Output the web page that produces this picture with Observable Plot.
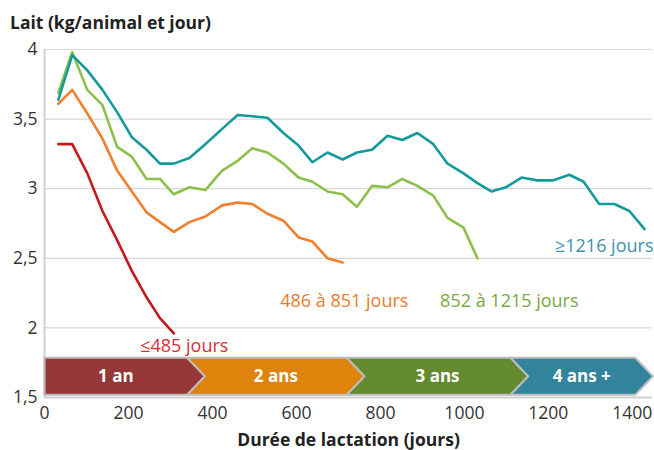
<!DOCTYPE html>
<html>
<head>
<meta charset="utf-8">
<script src="https://cdn.jsdelivr.net/npm/d3@7"></script>
<script src="https://cdn.jsdelivr.net/npm/@observablehq/plot@0.6"></script>
<style>
  body { margin: 0; background: #fff; font-family: "Open Sans", sans-serif; }
  #title { height: 38px; box-sizing: border-box; padding: 11px 0 0 10px; font-size: 17.5px; font-weight: bold; color: #222; line-height: 22px; }
  svg { display: block; }
</style>
</head>
<body>
<div id="title">Lait (kg/animal et jour)</div>
<div id="chart"></div>
<script>
// Lactation days of each measurement point
const days = [33, 66, 102, 138, 173, 208, 243, 275, 308, 345, 383, 423, 460, 495, 531, 569, 605, 638, 674, 710,
              744, 780, 817, 852, 888, 926, 960, 998, 1031, 1064, 1099, 1136, 1174, 1212, 1250, 1284, 1321, 1357, 1393, 1429];

// Milk (kg/animal/day) per lactation-duration group
const red = [3.32, 3.32, 3.11, 2.84, 2.63, 2.41, 2.22, 2.07, 1.96];
const orange = [3.61, 3.71, 3.54, 3.36, 3.13, 2.98, 2.83, 2.76, 2.69, 2.76, 2.80, 2.88, 2.90, 2.89, 2.82, 2.77, 2.65, 2.62, 2.50, 2.47];
const green = [3.69, 3.98, 3.71, 3.60, 3.30, 3.23, 3.07, 3.07, 2.96, 3.01, 2.99, 3.13, 3.20, 3.29, 3.26, 3.18, 3.08, 3.05, 2.98,
               2.96, 2.87, 3.02, 3.01, 3.07, 3.02, 2.95, 2.79, 2.72, 2.50];
const teal = [3.64, 3.96, 3.85, 3.71, 3.55, 3.37, 3.28, 3.18, 3.18, 3.22, 3.32, 3.43, 3.53, 3.52, 3.51, 3.40, 3.31, 3.19, 3.26, 3.21,
              3.26, 3.28, 3.38, 3.35, 3.40, 3.32, 3.18, 3.11, 3.04, 2.98, 3.01, 3.08, 3.06, 3.06, 3.10, 3.05, 2.89, 2.89, 2.84, 2.71];

const seriesNames = ["≤485 jours", "486 à 851 jours", "852 à 1215 jours", "≥1216 jours"];

// Lactation-year phases (arrow band)
const phases = ["1 an", "2 ans", "3 ans", "4 ans +"];
const phaseStart = [0, 340, 720, 1110];
const phaseEnd = [340, 720, 1110, 1407];

// Axis ticks
const xTicks = [0, 200, 400, 600, 800, 1000, 1200, 1400];
const yTicks = [1.5, 2, 2.5, 3, 3.5, 4];

// ---- styles / annotation placement ----
const lineColors = ["#c3191f", "#f27f2c", "#8cc04a", "#159a9b"];
const labelColors = ["#d4303a", "#ea7b2d", "#79a842", "#3e92ad"];
const phaseColors = ["#963837", "#e0830c", "#648a30", "#31849b"];
const labelPos = [[333, 1.87], [714, 2.195], [1107, 2.195], [1333, 2.585]];
const bandTop = 1.786, bandBottom = 1.52, tip = 42;
const bandMid = (bandTop + bandBottom) / 2;

const seriesValues = [red, orange, green, teal];
const lineData = seriesValues.map((vals, s) => vals.map((v, i) => ({x: days[i], y: v, s})));

function chevron(i) {
  const s = phaseStart[i], e = phaseEnd[i];
  const pts = [[s, bandTop], [e, bandTop], [e + tip, bandMid], [e, bandBottom], [s, bandBottom]];
  if (i > 0) pts.push([s + tip, bandMid]);
  return pts.map(([x, y]) => ({x, y}));
}
const phaseLabelData = phases.map((p, i) => ({
  x: ((i > 0 ? phaseStart[i] + tip : phaseStart[i]) + phaseEnd[i]) / 2,
  y: bandMid,
  label: p
}));

const fmtY = d => String(d).replace(".", ",");
const fmtX = d => String(d);

const marks = [
  Plot.gridY(yTicks, {stroke: "#d9d9d9", strokeOpacity: 1, strokeWidth: 1.2}),
  Plot.ruleX([0], {stroke: "#d0d0d0", strokeWidth: 2}),
  Plot.ruleY([1.5], {stroke: "#d0d0d0", strokeWidth: 2}),
  Plot.axisY(yTicks, {tickSize: 0, tickPadding: 7, fontSize: 17.5, tickFormat: fmtY, label: null, fill: "#333"}),
  Plot.axisX(xTicks, {tickSize: 0, tickPadding: 9, fontSize: 17.5, tickFormat: fmtX, label: null, fill: "#333"}),
  Plot.text(["Durée de lactation (jours)"], {frameAnchor: "bottom", dy: 43, fontSize: 17.5, fontWeight: "bold", fill: "#222", lineAnchor: "middle"})
];
phases.forEach((p, i) => {
  marks.push(Plot.line(chevron(i), {x: "x", y: "y", fill: phaseColors[i], stroke: "#bcbcbc", strokeWidth: 2, curve: "linear-closed"}));
});
marks.push(Plot.text(phaseLabelData, {x: "x", y: "y", text: "label", fill: "white", fontWeight: "bold", fontSize: 17}));
lineData.forEach((d, s) => {
  marks.push(Plot.line(d, {x: "x", y: "y", stroke: lineColors[s], strokeWidth: 2.6}));
});
seriesNames.forEach((n, s) => {
  marks.push(Plot.text([n], {x: labelPos[s][0], y: labelPos[s][1], fill: labelColors[s], fontSize: 18}));
});

const chart = Plot.plot({
  width: 654,
  height: 412,
  marginLeft: 44,
  marginRight: 2,
  marginTop: 11,
  marginBottom: 53,
  style: {fontFamily: "Open Sans, sans-serif", background: "white", overflow: "visible"},
  x: {domain: [0, 1448]},
  y: {domain: [1.5, 4]},
  marks
});
document.getElementById("chart").appendChild(chart);
</script>
</body>
</html>
